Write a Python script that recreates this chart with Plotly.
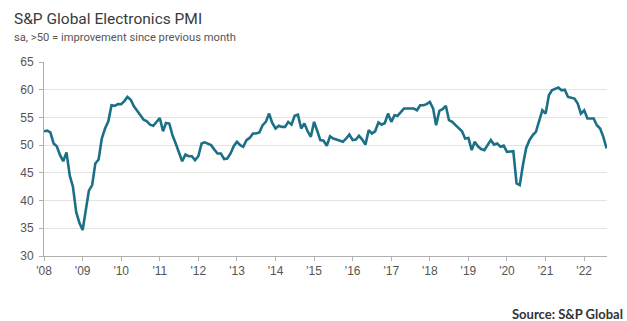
import pandas as pd
import plotly.graph_objects as go

# Monthly PMI readings, Jan 2008 onwards
pmi_values = [
    52.5, 52.6, 52.3, 50.3, 49.8, 48.2, 47.1, 48.7, 44.5, 42.5, 37.9, 36.0,  # 2008
    34.7, 38.5, 41.8, 42.8, 46.7, 47.4, 51.2, 53.0, 54.3, 57.2, 57.1, 57.4,  # 2009
    57.4, 58.0, 58.7, 58.2, 57.0, 56.2, 55.5, 54.6, 54.3, 53.7, 53.5, 54.3,  # 2010
    54.9, 52.5, 54.0, 53.9, 51.8, 50.3, 48.8, 47.1, 48.3, 48.0, 48.0, 47.3,  # 2011
    48.0, 50.3, 50.5, 50.2, 50.0, 49.2, 48.5, 48.5, 47.5, 47.6, 48.5, 49.8,  # 2012
    50.6, 50.0, 49.7, 50.9, 51.3, 52.1, 52.1, 52.3, 53.6, 54.2, 55.7, 54.0,  # 2013
    53.0, 53.5, 53.3, 53.3, 54.2, 53.7, 55.3, 55.5, 53.0, 53.9, 52.5, 51.5,  # 2014
    54.2, 52.5, 50.9, 50.8, 49.9, 51.6, 51.2, 51.0, 50.8, 50.6, 51.2, 51.9,  # 2015
    50.9, 51.0, 51.7, 51.0, 50.1, 52.7, 52.1, 52.5, 54.1, 53.7, 54.0, 55.7,  # 2016
    54.2, 55.4, 55.3, 56.0, 56.6, 56.6, 56.6, 56.6, 56.3, 57.2, 57.2, 57.4,  # 2017
    57.8, 56.6, 53.6, 56.2, 56.5, 57.1, 54.5, 54.2, 53.6, 53.0, 52.5, 51.2,  # 2018
    51.3, 49.1, 50.6, 49.8, 49.3, 49.1, 50.0, 50.9, 50.1, 50.3, 49.7, 49.9,  # 2019
    48.8, 48.9, 48.9, 43.1, 42.8, 46.5, 49.5, 50.9, 51.8, 52.4, 54.5, 56.3,  # 2020
    55.7, 59.0, 59.9, 60.1, 60.4, 59.9, 60.0, 58.7, 58.6, 58.4, 57.5, 55.7,  # 2021
    56.3, 54.8, 54.8, 54.8, 53.6, 53.0, 51.5, 49.4,                          # 2022
]
months = pd.date_range("2008-01-01", periods=len(pmi_values), freq="MS")

tick_years = list(range(2008, 2023))
tick_vals = [f"{y}-01-01" for y in tick_years]
tick_text = [f"'{str(y)[2:]}" for y in tick_years]

y_ticks = [30, 35, 40, 45, 50, 55, 60, 65]

title_text = "S&P Global Electronics PMI"
subtitle_text = "sa, >50 = improvement since previous month"
source_text = "Source: S&P Global"

fig = go.Figure()
fig.add_trace(go.Scatter(
    x=months, y=pmi_values, mode="lines",
    line=dict(color="#1b7088", width=2.6),
    hoverinfo="skip", showlegend=False,
))

axis_font = dict(family="Liberation Sans, Arial, sans-serif", size=12, color="#555555")

fig.update_layout(
    width=627, height=321,
    margin=dict(l=44, r=20, t=62, b=65),
    paper_bgcolor="white", plot_bgcolor="white",
    xaxis=dict(
        range=["2008-01-01", "2022-08-05"],
        tickvals=tick_vals, ticktext=tick_text,
        showgrid=False, showline=True, linecolor="#b0b0b0", linewidth=1,
        ticks="outside", ticklen=4, tickcolor="#b0b0b0",
        tickfont=axis_font, zeroline=False, ticklabelstandoff=0,
    ),
    yaxis=dict(
        range=[30, 65], tickvals=y_ticks,
        showgrid=True, gridcolor="#e3e3e3", gridwidth=1,
        showline=True, linecolor="#b0b0b0", linewidth=1,
        ticks="outside", ticklen=4, tickcolor="#b0b0b0",
        tickfont=axis_font, zeroline=False, ticklabelstandoff=3,
    ),
    annotations=[
        dict(text=title_text, xref="paper", yref="paper", x=-0.057, y=1.222,
             xanchor="left", yanchor="middle", showarrow=False,
             font=dict(family="Roboto, sans-serif", size=15.5, color="#3a3a3a")),
        dict(text=subtitle_text, xref="paper", yref="paper", x=-0.057, y=1.126,
             xanchor="left", yanchor="middle", showarrow=False,
             font=dict(family="Roboto, sans-serif", size=11.2, color="#555555")),
        dict(text="<b>" + source_text + "</b>", xref="paper", yref="paper", x=1.032, y=-0.299,
             xanchor="right", yanchor="middle", showarrow=False,
             font=dict(family="Lato, Open Sans, sans-serif", size=13, color="#333333")),
    ],
)

fig.write_html("out.html")
